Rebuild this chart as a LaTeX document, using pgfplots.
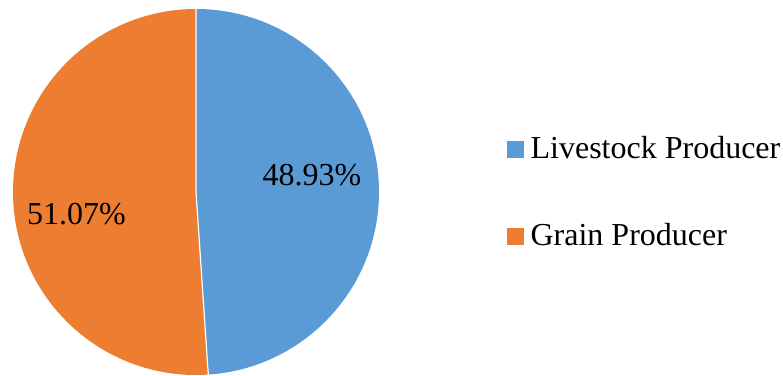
\documentclass[border=0pt]{standalone}
\usepackage{pgfplots}
\pgfplotsset{compat=1.18}
\usepackage{pgfplotstable}
\usepackage{fontspec}
\setmainfont{Liberation Serif}
\definecolor{cblue}{HTML}{5B9BD5}
\definecolor{corange}{HTML}{ED7D31}
\pgfplotstableread{
value
48.93
51.07
}\piedata
\begin{document}
\begin{tikzpicture}
\path[use as bounding box] (0pt,0pt) rectangle (783pt,375pt);
\pgfplotstablegetelem{0}{value}\of\piedata \let\va\pgfplotsretval
\pgfplotstablegetelem{1}{value}\of\piedata \let\vb\pgfplotsretval
\pgfmathsetmacro\aend{90-3.6*\va}
\pgfmathsetmacro\bend{\aend-3.6*\vb}
\pgfmathsetmacro\ex{cos(\aend)}
\pgfmathsetmacro\ey{sin(\aend)}
\begin{axis}[at={(196pt,183pt)}, anchor=center, scale only axis,
  width=366pt, height=366pt, xmin=-1, xmax=1, ymin=-1, ymax=1,
  hide axis, clip=false,
  font=\fontsize{32}{38}\selectfont,
  legend style={at={(rel axis cs:1.3497,0.502)}, anchor=west, draw=none, fill=none,
    inner sep=0pt, row sep=65pt, column sep=7pt,
    nodes={inner sep=0pt, text height=22pt, text depth=0pt},
    font=\fontsize{32}{38}\selectfont},
  legend cell align=left]
\fill[cblue] (axis cs:0,0) -- (axis cs:0,1) arc[start angle=90, end angle=\aend, radius=183pt] -- cycle;
\fill[corange] (axis cs:0,0) -- (axis cs:\ex,\ey) arc[start angle=\aend, end angle=\bend, radius=183pt] -- cycle;
\draw[white, line width=1.2pt] (axis cs:0,1) -- (axis cs:0,0) -- (axis cs:\ex,\ey);
\node[anchor=base] at (axis cs:0.634,0.038) {\va\%};
\node[anchor=base] at (axis cs:-0.653,-0.180) {\vb\%};
\addlegendimage{legend image code/.code={\fill[cblue] (0pt,-9pt) rectangle (16pt,7pt);}}
\addlegendentry{Livestock Producer}
\addlegendimage{legend image code/.code={\fill[corange] (0pt,-9pt) rectangle (16pt,7pt);}}
\addlegendentry{Grain Producer}
\end{axis}
\end{tikzpicture}
\end{document}
